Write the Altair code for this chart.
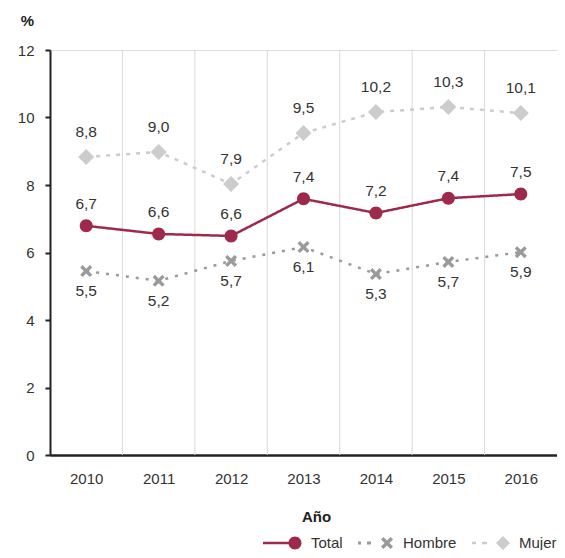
import math
import altair as alt
import pandas as pd

# ---------------- data ----------------
years = [2010, 2011, 2012, 2013, 2014, 2015, 2016]
series = ["Total", "Hombre", "Mujer"]
total_vals = [6.79, 6.55, 6.49, 7.59, 7.17, 7.61, 7.73]
hombre_vals = [5.45, 5.16, 5.75, 6.16, 5.36, 5.72, 6.01]
mujer_vals = [8.83, 8.98, 8.03, 9.54, 10.16, 10.31, 10.13]
total_lbl = ["6,7", "6,6", "6,6", "7,4", "7,2", "7,4", "7,5"]
hombre_lbl = ["5,5", "5,2", "5,7", "6,1", "5,3", "5,7", "5,9"]
mujer_lbl = ["8,8", "9,0", "7,9", "9,5", "10,2", "10,3", "10,1"]
y_ticks = [0, 2, 4, 6, 8, 10, 12]

rows = []
for name, vals, lbls in [("Total", total_vals, total_lbl),
                         ("Hombre", hombre_vals, hombre_lbl),
                         ("Mujer", mujer_vals, mujer_lbl)]:
    for yr, v, l in zip(years, vals, lbls):
        rows.append({"year": yr, "serie": name, "value": v, "label": l})
df = pd.DataFrame(rows)
bounds = pd.DataFrame({"b": [y + 0.5 for y in years[:-1]]})

# ---------------- style ----------------
FONT = "Liberation Sans"
colors = ["#9e2a4b", "#9a9a9a", "#cccccc"]
dashes = [[1, 0], [3, 7], [4, 6]]
W, H = 507, 405


def rect(x0, x1, h):
    return f"M{x0},{-h} L{x1},{-h} L{x1},{h} L{x0},{h} Z "


def circle(r):
    k = 0.5523 * r
    return (f"M{r},0 C{r},{k} {k},{r} 0,{r} C{-k},{r} {-r},{k} {-r},0 "
            f"C{-r},{-k} {-k},{-r} 0,{-r} C{k},{-r} {r},{-k} {r},0 Z ")


def xmark(L, t):
    pts = [(t, -L), (t, -t), (L, -t), (L, t), (t, t), (t, L), (-t, L),
           (-t, t), (-L, t), (-L, -t), (-t, -t), (-t, -L)]
    s = 1 / math.sqrt(2)
    rp = [((x - y) * s, (x + y) * s) for x, y in pts]
    return "M" + " L".join(f"{x:.3f},{y:.3f}" for x, y in rp) + " Z "


def diamond(d):
    return f"M0,{-d} L{d},0 L0,{d} L{-d},0 Z "


m_total = circle(0.65)
m_hombre = xmark(0.68, 0.17)
m_mujer = diamond(0.8)
marker_shapes = [m_total, m_hombre, m_mujer]
legend_shapes = [
    rect(-3.2, -0.6, 0.13) + m_total,
    rect(-2.9, -2.6, 0.15) + rect(-2.0, -1.6, 0.15) + m_hombre,
    rect(-3.1, -2.7, 0.13) + rect(-2.1, -1.6, 0.13) + diamond(0.7),
]

x_enc = alt.X(
    "year:Q",
    scale=alt.Scale(domain=[2009.5, 2016.5], nice=False, zero=False),
    axis=alt.Axis(values=years, format="d", title="Año", grid=False, ticks=False,
                  labelPadding=16, labelFontSize=15, labelColor="#333", labelFont=FONT,
                  domainColor="#222", domainWidth=2.5,
                  titleFont=FONT, titleFontSize=15, titleFontWeight="bold",
                  titleColor="#222", titleX=266, titleY=61, titleBaseline="middle"),
)
y_enc = alt.Y(
    "value:Q",
    scale=alt.Scale(domain=[0, 12], nice=False),
    axis=alt.Axis(values=y_ticks, title="%", grid=False, tickSize=5, tickWidth=2,
                  tickColor="#222", domainColor="#222", domainWidth=2,
                  labelPadding=11, labelFontSize=15, labelColor="#333", labelFont=FONT,
                  titleAngle=0, titleX=-23, titleY=-30, titleAlign="center",
                  titleBaseline="middle", titleFont=FONT, titleFontSize=15,
                  titleFontWeight="bold", titleColor="#222"),
)

color_noleg = alt.Color("serie:N", scale=alt.Scale(domain=series, range=colors), legend=None)

grid = alt.Chart(bounds).mark_rule(color="#d9d9d9", strokeWidth=1).encode(
    x=alt.X("b:Q", scale=alt.Scale(domain=[2009.5, 2016.5], nice=False, zero=False))
)

base = alt.Chart(df)

lines = base.mark_line(strokeWidth=2.5).encode(
    x=x_enc, y=y_enc,
    color=color_noleg,
    strokeDash=alt.StrokeDash("serie:N", scale=alt.Scale(domain=series, range=dashes), legend=None),
    order=alt.Order("year:Q"),
)

points = base.mark_point(filled=True, opacity=1, strokeWidth=0, size=400).encode(
    x=x_enc, y=y_enc,
    color=color_noleg,
    shape=alt.Shape("serie:N", scale=alt.Scale(domain=series, range=marker_shapes), legend=None),
)

txt_kw = dict(font=FONT, fontSize=15.5, color="#333", baseline="middle", align="center")
lab_total = base.mark_text(dy=-22, **txt_kw).encode(x=x_enc, y=y_enc, text="label:N").transform_filter(
    alt.datum.serie == "Total")
lab_mujer = base.mark_text(dy=-25, **txt_kw).encode(x=x_enc, y=y_enc, text="label:N").transform_filter(
    alt.datum.serie == "Mujer")
lab_hombre = base.mark_text(dy=20, **txt_kw).encode(x=x_enc, y=y_enc, text="label:N").transform_filter(
    alt.datum.serie == "Hombre")

leg_kw = dict(orient="none", legendX=235, legendY=483, direction="horizontal", title=None,
              symbolSize=400, labelFontSize=15, labelColor="#333", labelFont=FONT,
              labelOffset=6, columnPadding=15, padding=0, symbolStrokeWidth=0,
              symbolOpacity=1, labelLimit=0)
legend_layer = base.mark_point(filled=True, opacity=1, strokeWidth=0, size=400).encode(
    x=x_enc, y=y_enc,
    color=alt.Color("serie:N", scale=alt.Scale(domain=series, range=colors), legend=alt.Legend(**leg_kw)),
    shape=alt.Shape("serie:N", scale=alt.Scale(domain=series, range=legend_shapes), legend=alt.Legend(**leg_kw)),
).transform_filter("false")

chart = alt.layer(
    grid, lines, points, lab_total, lab_mujer, lab_hombre, legend_layer
).resolve_scale(
    color="independent", shape="independent", strokeDash="independent"
).properties(
    width=W, height=H,
    autosize=alt.AutoSizeParams(type="none"),
    padding={"left": 42, "top": 42, "right": 0, "bottom": 95},
).configure_view(stroke=None).configure(background="white")

chart.save("out.html", embed_options={"renderer": "svg", "actions": False})
